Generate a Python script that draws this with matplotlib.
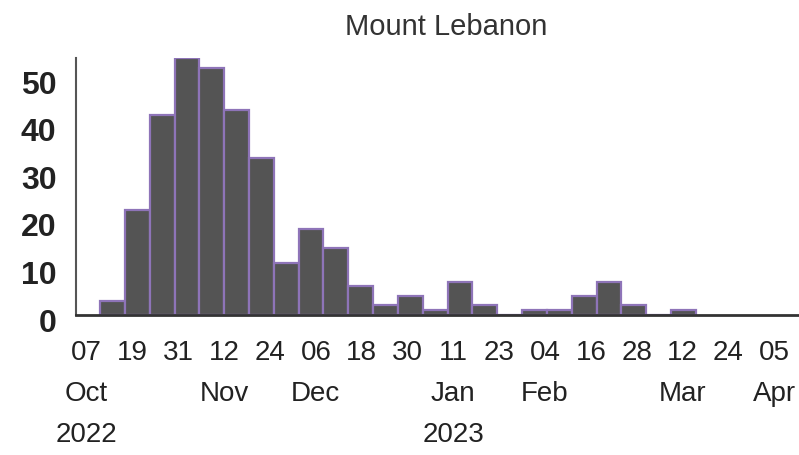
import matplotlib
matplotlib.use("Agg")
import matplotlib.pyplot as plt
import matplotlib.dates as mdates
import matplotlib.transforms as mtransforms
from matplotlib import font_manager
import numpy as np

# bin starts (histogram bins of 6.5 days) and case counts per bin
bin_starts = ["2022-10-10T12", "2022-10-17T00", "2022-10-23T12", "2022-10-30T00",
              "2022-11-05T12", "2022-11-12T00", "2022-11-18T12", "2022-11-25T00",
              "2022-12-01T12", "2022-12-08T00", "2022-12-14T12", "2022-12-21T00",
              "2022-12-27T12", "2023-01-03T00", "2023-01-09T12", "2023-01-16T00",
              "2023-01-22T12", "2023-01-29T00", "2023-02-04T12", "2023-02-11T00",
              "2023-02-17T12", "2023-02-24T00", "2023-03-02T12", "2023-03-09T00"]
cases = [3, 22, 42, 54, 52, 43, 33, 11, 18, 14, 6, 2,
         4, 1, 7, 2, 0, 1, 1, 4, 7, 2, 0, 1]
bin_days = 6.5

tick_dates = ["2022-10-07", "2022-10-19", "2022-10-31", "2022-11-12", "2022-11-24",
              "2022-12-06", "2022-12-18", "2022-12-30", "2023-01-11", "2023-01-23",
              "2023-02-04", "2023-02-16", "2023-02-28", "2023-03-12", "2023-03-24",
              "2023-04-05"]
tick_labels = ["07\nOct\n2022", "19", "31", "12\nNov", "24", "06\nDec", "18", "30",
               "11\nJan\n2023", "23", "04\nFeb", "16", "28", "12\nMar", "24", "05\nApr"]
yticks = [0, 10, 20, 30, 40, 50]

# use the narrow face if it is installed, otherwise plain Liberation Sans a bit smaller
installed = {f.name for f in font_manager.fontManager.ttflist}
if "Liberation Sans Narrow" in installed:
    xfont, xsize, xspace, tsize = "Liberation Sans Narrow", 22, 1.6, 25
else:
    xfont, xsize, xspace, tsize = "Liberation Sans", 20, 1.75, 21
regular = ["Liberation Sans", "DejaVu Sans"]

fig = plt.figure(figsize=(7.99, 4.55), dpi=100)
ax = fig.add_axes([76 / 799, 1 - 315 / 455, 1 - 76 / 799, 257 / 455])

x = mdates.date2num(np.array(bin_starts, dtype="datetime64[h]"))
ax.bar(x, cases, width=bin_days, align="edge", color="#545454",
       edgecolor="#8e74b8", linewidth=1.6)

ax.set_ylim(0, 54)
ax.set_xlim(mdates.date2num(np.datetime64("2022-10-04T05")),
            mdates.date2num(np.datetime64("2023-04-11T12")))

ax.set_xticks(mdates.date2num(np.array(tick_dates, dtype="datetime64[D]")))
ax.set_xticklabels(tick_labels, family=[xfont, "DejaVu Sans"], fontsize=xsize,
                   color="#222222", linespacing=xspace)
ax.set_yticks(yticks)
ax.set_yticklabels([str(v) for v in yticks], family=regular, fontsize=23,
                   color="#222222", weight="bold")
ax.tick_params(axis="x", length=0, pad=18)
ax.tick_params(axis="y", length=0, pad=14)

# y labels sit a little below their ticks in the original
shift = mtransforms.ScaledTranslation(0, -5 / 100, fig.dpi_scale_trans)
for lab in ax.get_yticklabels():
    lab.set_transform(lab.get_transform() + shift)

for s in ["top", "right"]:
    ax.spines[s].set_visible(False)
ax.spines["left"].set_color("#555555")
ax.spines["left"].set_linewidth(1.5)
ax.spines["bottom"].set_color("#333333")
ax.spines["bottom"].set_linewidth(2)

fig.text(446 / 799, 1 - 27 / 455, "Mount Lebanon", family=[xfont, "DejaVu Sans"],
         fontsize=tsize, color="#333333", ha="center", va="center")

fig.savefig("out.png", dpi=100)
